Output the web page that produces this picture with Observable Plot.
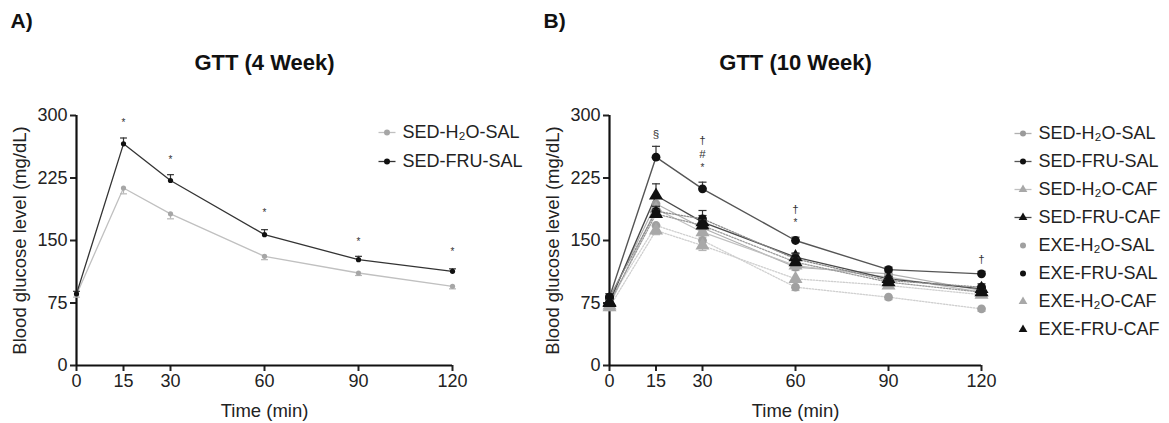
<!DOCTYPE html>
<html>
<head>
<meta charset="utf-8">
<script src="https://cdn.jsdelivr.net/npm/d3@7"></script>
<script src="https://cdn.jsdelivr.net/npm/@observablehq/plot@0.6"></script>
<style>
  html, body { margin: 0; padding: 0; background: #fff; }
  #wrap { position: relative; width: 1169px; height: 423px; overflow: hidden; font-family: "Liberation Sans", Arial, sans-serif; }
  #wrap > div, #wrap > svg { position: absolute; }
</style>
</head>
<body>
<div id="wrap"></div>
<script>
// ---------- shared ticks ----------
const times = [0, 15, 30, 60, 90, 120];
const yTicks = [0, 75, 150, 225, 300];

// ---------- Panel A : GTT (4 Week) ----------
const seriesA = ["SED-H₂O-SAL", "SED-FRU-SAL"];
const a_sed_h2o_sal     = [85, 213, 182, 131, 111, 95];
const a_sed_h2o_sal_err = [3, 7, 6, 4, 3, 3];
const a_sed_fru_sal     = [86, 266, 222, 157, 127, 113];
const a_sed_fru_sal_err = [3, 7, 7, 6, 4, 3];
const sigA_t = [15, 30, 60, 90, 120];
const sigA_y = [291, 247, 183, 149, 136];
const sigA_s = ["*", "*", "*", "*", "*"];

// ---------- Panel B : GTT (10 Week) ----------
const seriesB = ["SED-H₂O-SAL", "SED-FRU-SAL", "SED-H₂O-CAF", "SED-FRU-CAF",
                 "EXE-H₂O-SAL", "EXE-FRU-SAL", "EXE-H₂O-CAF", "EXE-FRU-CAF"];
const b_sed_h2o_sal = [80, 194, 165, 118, 110, 90];
const b_sed_fru_sal = [82, 250, 212, 150, 115, 110];
const b_sed_h2o_caf = [72, 188, 160, 120, 106, 88];
const b_sed_fru_caf = [76, 204, 172, 130, 104, 92];
const b_exe_h2o_sal = [78, 168, 150, 94, 82, 68];
const b_exe_fru_sal = [82, 185, 176, 128, 102, 94];
const b_exe_h2o_caf = [70, 162, 144, 104, 96, 85];
const b_exe_fru_caf = [75, 182, 168, 124, 100, 88];
const b_sed_h2o_sal_err = [4, 5, 6, 4, 3, 3];
const b_sed_fru_sal_err = [4, 13, 8, 4, 3, 3];
const b_sed_h2o_caf_err = [4, 5, 6, 4, 3, 3];
const b_sed_fru_caf_err = [4, 14, 8, 5, 3, 3];
const b_exe_h2o_sal_err = [4, 5, 6, 4, 3, 3];
const b_exe_fru_sal_err = [4, 6, 10, 6, 4, 4];
const b_exe_h2o_caf_err = [4, 5, 6, 4, 3, 3];
const b_exe_fru_caf_err = [4, 5, 7, 5, 3, 3];
const sigB_t = [15, 30, 30, 30, 60, 60, 120];
const sigB_y = [278, 270, 253, 237, 188, 171, 128];
const sigB_s = ["§", "†", "#", "*", "†", "*", "†"];

// ---------- styles per series ----------
const styleA = {
  "SED-H₂O-SAL": {line: "#c0c0c0", fill: "#a6a6a6", dash: null, sym: "circle", dir: -1},
  "SED-FRU-SAL": {line: "#333333", fill: "#111111", dash: null, sym: "circle", dir: 1}
};
const styleB = {
  "SED-H₂O-SAL": {line: "#b0b0b0", fill: "#9a9a9a", dash: null,  sym: "circle",   dir: -1, w: 1.2},
  "SED-FRU-SAL": {line: "#555555", fill: "#111111", dash: null,  sym: "circle",   dir: 1,  w: 1.4},
  "SED-H₂O-CAF": {line: "#c0c0c0", fill: "#a8a8a8", dash: null,  sym: "triangle", dir: -1, w: 1.2},
  "SED-FRU-CAF": {line: "#4a4a4a", fill: "#111111", dash: null,  sym: "triangle", dir: 1,  w: 1.4},
  "EXE-H₂O-SAL": {line: "#d0d0d0", fill: "#a0a0a0", dash: "1.5,1.5", sym: "circle",   dir: -1, w: 1.3},
  "EXE-FRU-SAL": {line: "#8c8c8c", fill: "#111111", dash: "1.5,1.5", sym: "circle",   dir: 1,  w: 1.3},
  "EXE-H₂O-CAF": {line: "#cfcfcf", fill: "#a8a8a8", dash: "1.5,1.5", sym: "triangle", dir: -1, w: 1.3},
  "EXE-FRU-CAF": {line: "#9a9a9a", fill: "#111111", dash: "1.5,1.5", sym: "triangle", dir: 1,  w: 1.3}
};

function tidy(names, vals, errs) {
  return names.flatMap((s, i) => times.map((t, j) => ({series: s, t, v: vals[i][j], e: errs[i][j]})));
}
const dataA = tidy(seriesA, [a_sed_h2o_sal, a_sed_fru_sal], [a_sed_h2o_sal_err, a_sed_fru_sal_err]);
const dataB = tidy(seriesB,
  [b_sed_h2o_sal, b_sed_fru_sal, b_sed_h2o_caf, b_sed_fru_caf, b_exe_h2o_sal, b_exe_fru_sal, b_exe_h2o_caf, b_exe_fru_caf],
  [b_sed_h2o_sal_err, b_sed_fru_sal_err, b_sed_h2o_caf_err, b_sed_fru_caf_err, b_exe_h2o_sal_err, b_exe_fru_sal_err, b_exe_h2o_caf_err, b_exe_fru_caf_err]);
const sigA = sigA_t.map((t, i) => ({t, y: sigA_y[i], s: sigA_s[i]}));
const sigB = sigB_t.map((t, i) => ({t, y: sigB_y[i], s: sigB_s[i]}));

const FONT = "'Liberation Sans', Arial, sans-serif";

function panel({data, names, styles, sig, title, label, r, capHalf, lineW}) {
  const marks = [
    Plot.axisY({ticks: yTicks, tickSize: 6, tickPadding: 3, label: null, strokeWidth: 2, fontSize: 18, fill: "#222"}),
    Plot.axisX({ticks: times, tickSize: 6, tickPadding: 3, label: null, strokeWidth: 2, fontSize: 18, fill: "#222"}),
    Plot.ruleX([times[0]], {y1: yTicks[0], y2: yTicks[yTicks.length - 1], strokeWidth: 2.2, stroke: "#111"}),
    Plot.ruleY([yTicks[0]], {x1: times[0], x2: times[times.length - 1], strokeWidth: 2.2, stroke: "#111"}),
    Plot.text([label], {frameAnchor: "top-left", dx: -66, dy: -94, textAnchor: "start", lineAnchor: "middle", fontSize: 21, fontWeight: "bold", fill: "#111"}),
    Plot.text([title], {frameAnchor: "top", dy: -53, textAnchor: "middle", lineAnchor: "middle", fontSize: 22, fontWeight: "bold", fill: "#111"}),
    Plot.text(["Blood glucose level (mg/dL)"], {frameAnchor: "left", rotate: -90, dx: -56, textAnchor: "middle", lineAnchor: "middle", fontSize: 18.5, fill: "#222"}),
    Plot.text(["Time (min)"], {frameAnchor: "bottom", dy: 46, textAnchor: "middle", lineAnchor: "middle", fontSize: 18.5, fill: "#222"})
  ];
  // draw back-to-front: light series first
  const order = names.slice().sort((a, b) => (styles[a].fill === "#111111") - (styles[b].fill === "#111111"));
  for (const s of order) {
    const st = styles[s];
    const rows = data.filter(d => d.series === s);
    marks.push(
      Plot.line(rows, {x: "t", y: "v", stroke: st.line, strokeWidth: st.w || lineW, strokeDasharray: st.dash})
    );
  }
  for (const s of order) {
    const st = styles[s];
    const rows = data.filter(d => d.series === s);
    const errCol = st.fill === "#111111" ? "#333" : "#b5b5b5";
    marks.push(
      Plot.ruleX(rows, {x: "t", y1: "v", y2: d => d.v + st.dir * d.e, stroke: errCol, strokeWidth: 1.2}),
      Plot.link(rows, {x1: d => d.t - capHalf, x2: d => d.t + capHalf, y1: d => d.v + st.dir * d.e, y2: d => d.v + st.dir * d.e, stroke: errCol, strokeWidth: 1.2}),
      Plot.dot(rows, {x: "t", y: "v", symbol: () => st.sym, r: st.sym === "triangle" ? r + 0.8 : r, fill: st.fill, stroke: "none"})
    );
  }
  marks.push(
    Plot.text(sig, {x: "t", y: "y", text: "s", fontSize: d => d.s === "*" ? 10 : 11.5, fill: "#333", lineAnchor: "middle"})
  );
  return marks;
}

const wrap = document.getElementById("wrap");

// Panel A plot
const plotA = Plot.plot({
  width: 580, height: 423,
  marginLeft: 76, marginRight: 128, marginTop: 115, marginBottom: 58,
  x: {domain: [0, 120]},
  y: {domain: [0, 300]},
  symbol: {type: "identity"},
  style: {fontFamily: FONT, fontSize: "18px", color: "#222", background: "transparent", overflow: "visible"},
  marks: panel({data: dataA, names: seriesA, styles: styleA, sig: sigA, title: "GTT (4 Week)", label: "A)", r: 2.6, capHalf: 1.1, lineW: 1.3})
});
plotA.style.left = "0px"; plotA.style.top = "0px";
wrap.appendChild(plotA);

// Panel B plot
const plotB = Plot.plot({
  width: 636, height: 423,
  marginLeft: 76, marginRight: 188, marginTop: 115, marginBottom: 58,
  x: {domain: [0, 120]},
  y: {domain: [0, 300]},
  symbol: {type: "identity"},
  style: {fontFamily: FONT, fontSize: "18px", color: "#222", background: "transparent", overflow: "visible"},
  marks: panel({data: dataB, names: seriesB, styles: styleB, sig: sigB, title: "GTT (10 Week)", label: "B)", r: 4.4, capHalf: 1.3, lineW: 1.3})
});
plotB.style.left = "533px"; plotB.style.top = "0px";
wrap.appendChild(plotB);

// Legends (built with Plot point scales)
function legend(names, styles, {left, top, width, height, y0, y1, r, stub}) {
  const rows = names.map(s => ({s}));
  const p = Plot.plot({
    width, height, margin: 0,
    x: {domain: [0, 1], range: [stub[0], stub[1]], axis: null},
    y: {type: "point", domain: names, range: [y0, y1], padding: 0, axis: null},
    symbol: {type: "identity"},
    style: {fontFamily: FONT, background: "transparent", overflow: "visible"},
    marks: [
      Plot.link(rows.filter(d => !styles[d.s].dash), {x1: () => 0, x2: () => 1, y1: "s", y2: "s", stroke: d => styles[d.s].line, strokeWidth: 1.3}),
      Plot.dot(rows, {x: () => 0.5, y: "s", symbol: d => styles[d.s].sym, r: d => styles[d.s].sym === "triangle" ? r + 0.6 : r, fill: d => styles[d.s].fill}),
      Plot.text(rows, {x: () => 1, y: "s", text: "s", dx: 7, textAnchor: "start", lineAnchor: "middle", fontSize: 18, fill: "#222"})
    ]
  });
  p.style.left = left + "px"; p.style.top = top + "px";
  wrap.appendChild(p);
}
legend(seriesA, styleA, {left: 370, top: 100, width: 190, height: 80, y0: 31.7, y1: 61, r: 2.2, stub: [8, 25]});
legend(seriesB, styleB, {left: 1010, top: 100, width: 159, height: 250, y0: 30, y1: 232, r: 3.6, stub: [4, 21]});
</script>
</body>
</html>
